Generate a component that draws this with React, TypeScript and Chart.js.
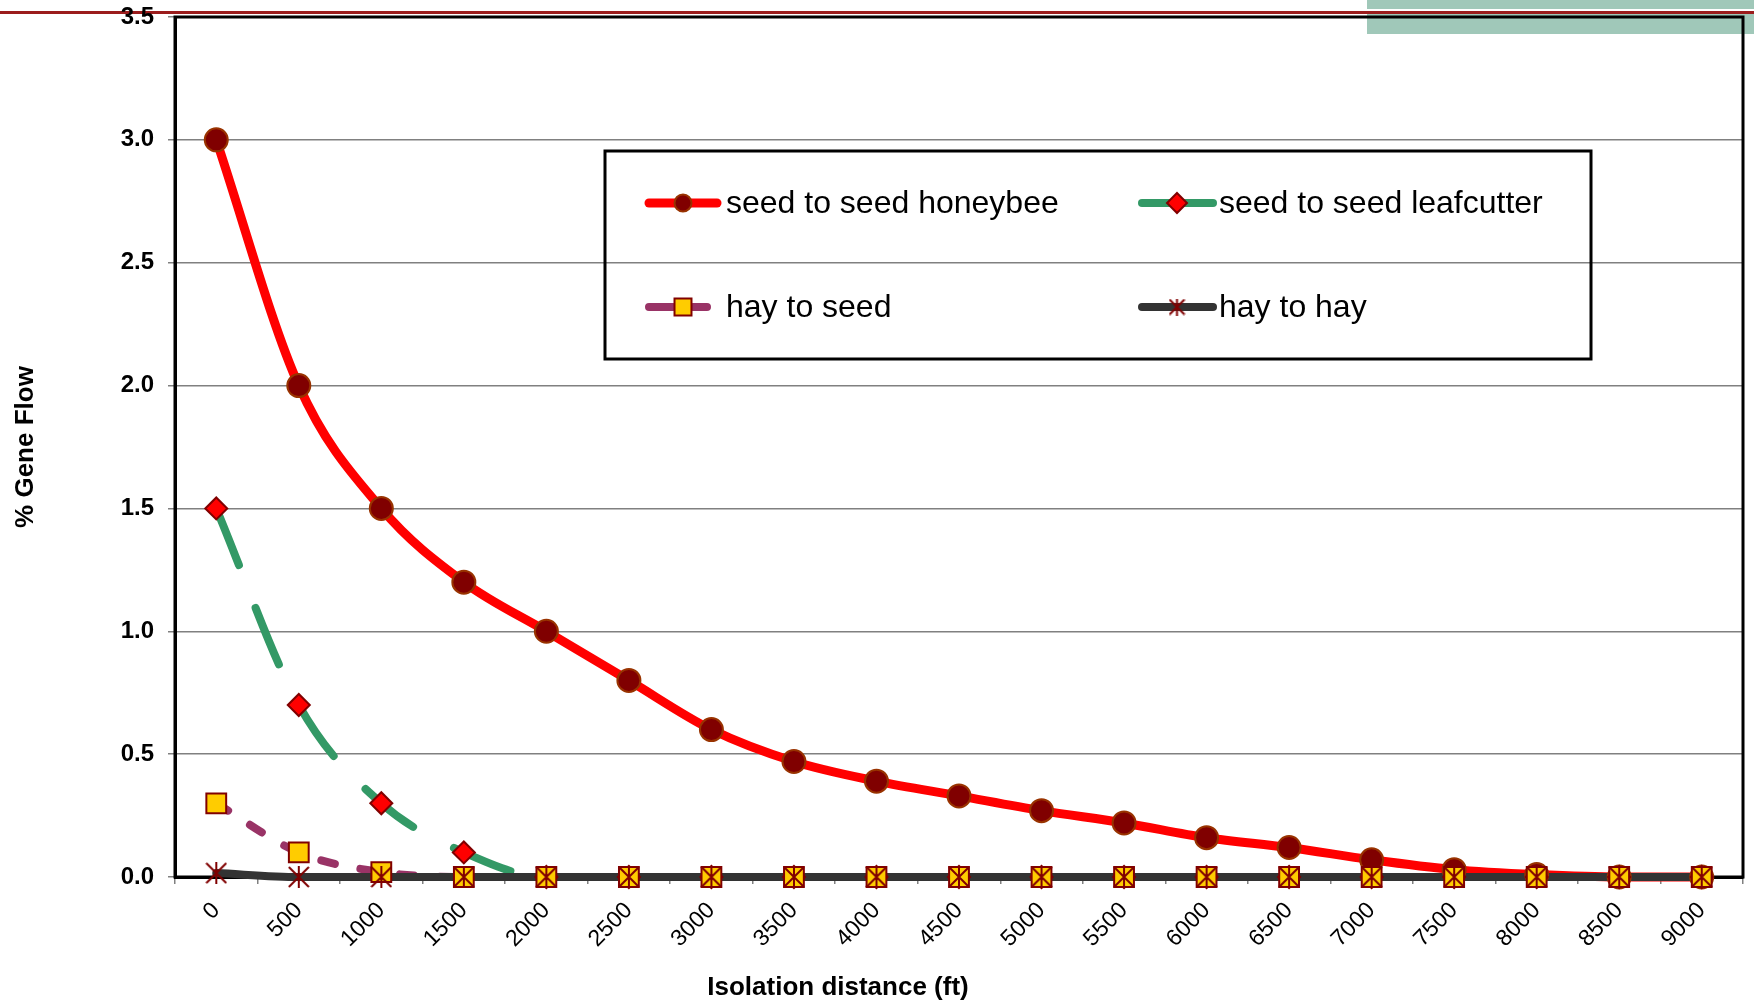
import React, { useEffect, useRef } from 'react';
import { Chart, registerables } from 'chart.js';

Chart.register(...registerables);

const FONT = "'Liberation Sans', Arial, Helvetica, sans-serif";

// ---- data ----
const distances = ['0', '500', '1000', '1500', '2000', '2500', '3000', '3500', '4000', '4500', '5000', '5500', '6000', '6500', '7000', '7500', '8000', '8500', '9000'];
const honeybee = [3.0, 2.0, 1.5, 1.2, 1.0, 0.8, 0.6, 0.47, 0.39, 0.33, 0.27, 0.22, 0.16, 0.12, 0.07, 0.03, 0.01, 0, 0];
const leafcutter = [1.5, 0.7, 0.3, 0.1, 0, 0, 0, 0, 0, 0, 0, 0, 0, 0, 0, 0, 0, 0, 0];
const hayToSeed = [0.3, 0.1, 0.02, 0, 0, 0, 0, 0, 0, 0, 0, 0, 0, 0, 0, 0, 0, 0, 0];
const hayToHay = [0.016, 0, 0, 0, 0, 0, 0, 0, 0, 0, 0, 0, 0, 0, 0, 0, 0, 0, 0];
const seriesNames = ['seed to seed honeybee', 'seed to seed leafcutter', 'hay to seed', 'hay to hay'];
const yTickValues = [0, 0.5, 1.0, 1.5, 2.0, 2.5, 3.0, 3.5];
const xTitle = 'Isolation distance (ft)';
const yTitle = '% Gene Flow';

// ---- styles ----
type MarkerKind = 'circle' | 'rectRot' | 'rect' | 'asterisk';
interface SeriesStyle {
  line: string;
  width: number;
  dash: number[];
  legendSplit: boolean;
  marker: MarkerKind;
  fill: string;
  edge: string;
  radius: number;
  legendRadius: number;
}
const styles: SeriesStyle[] = [
  { line: '#FF0000', width: 9, dash: [], legendSplit: false, marker: 'circle', fill: '#800000', edge: '#993300', radius: 11.5, legendRadius: 8.5 },
  { line: '#339966', width: 8, dash: [61, 46], legendSplit: false, marker: 'rectRot', fill: '#FF0000', edge: '#800000', radius: 11, legendRadius: 10 },
  { line: '#993366', width: 8, dash: [14, 26], legendSplit: true, marker: 'rect', fill: '#FFCC00', edge: '#800000', radius: 14, legendRadius: 12 },
  { line: '#333333', width: 8, dash: [], legendSplit: false, marker: 'asterisk', fill: '#800000', edge: '#800000', radius: 11, legendRadius: 8.5 },
];

function makeAsterisk(size: number, color: string, lw: number): HTMLCanvasElement {
  const c = document.createElement('canvas');
  c.width = size;
  c.height = size;
  const g = c.getContext('2d')!;
  g.strokeStyle = color;
  g.lineWidth = lw;
  const m = lw / 2;
  g.beginPath();
  g.moveTo(m, m);
  g.lineTo(size - m, size - m);
  g.moveTo(size - m, m);
  g.lineTo(m, size - m);
  g.moveTo(size / 2, 0);
  g.lineTo(size / 2, size);
  g.stroke();
  return c;
}

function drawMarker(ctx: CanvasRenderingContext2D, st: SeriesStyle, x: number, y: number, r: number, star: HTMLCanvasElement) {
  ctx.save();
  ctx.fillStyle = st.fill;
  ctx.strokeStyle = st.edge;
  ctx.lineWidth = 2;
  ctx.setLineDash([]);
  ctx.beginPath();
  if (st.marker === 'circle') {
    ctx.arc(x, y, r, 0, Math.PI * 2);
    ctx.fill();
    ctx.stroke();
  } else if (st.marker === 'rectRot') {
    ctx.moveTo(x, y - r);
    ctx.lineTo(x + r, y);
    ctx.lineTo(x, y + r);
    ctx.lineTo(x - r, y);
    ctx.closePath();
    ctx.fill();
    ctx.stroke();
  } else if (st.marker === 'rect') {
    const s = r * Math.SQRT1_2;
    ctx.rect(x - s, y - s, 2 * s, 2 * s);
    ctx.fill();
    ctx.stroke();
  } else {
    ctx.drawImage(star, x - r, y - r, 2 * r, 2 * r);
  }
  ctx.restore();
}

export default function App() {
  const ref = useRef<HTMLCanvasElement>(null);

  useEffect(() => {
    document.body.style.margin = '0';
    const canvas = ref.current;
    if (!canvas) return;

    const star = makeAsterisk(22, '#800000', 2);
    const legendStar = makeAsterisk(17, '#800000', 2);
    const values = [honeybee, leafcutter, hayToSeed, hayToHay];

    const lineSets = values.map((data, i) => ({
      label: seriesNames[i],
      data,
      borderColor: styles[i].line,
      backgroundColor: styles[i].line,
      borderWidth: styles[i].width,
      borderDash: styles[i].dash,
      borderCapStyle: 'round' as const,
      borderJoinStyle: 'round' as const,
      tension: 0.4,
      cubicInterpolationMode: 'monotone' as const,
      pointRadius: 0,
      pointHoverRadius: 0,
      fill: false,
      clip: false as const,
      order: 10 - i,
    }));

    const markerSets = values.map((data, i) => ({
      label: seriesNames[i] + ' markers',
      data,
      showLine: false,
      pointStyle: styles[i].marker === 'asterisk' ? star : styles[i].marker,
      pointRadius: styles[i].radius,
      pointHoverRadius: styles[i].radius,
      pointBackgroundColor: styles[i].fill,
      pointBorderColor: styles[i].edge,
      pointBorderWidth: 2,
      borderWidth: 0,
      clip: false as const,
      order: 3 - i,
    }));

    const decorPlugin = {
      id: 'decor',
      beforeDraw(chart: any) {
        const ctx = chart.ctx as CanvasRenderingContext2D;
        const w = chart.width;
        ctx.save();
        ctx.fillStyle = '#FFFFFF';
        ctx.fillRect(0, 0, w, chart.height);
        ctx.fillStyle = '#A0C8B9';
        ctx.fillRect(1367, 0, w - 1367, 34);
        ctx.fillStyle = '#FFFFFF';
        ctx.fillRect(0, 9, w, 2);
        ctx.fillStyle = '#9B1C1C';
        ctx.fillRect(0, 11, w, 3);
        ctx.restore();
      },
      beforeDatasetsDraw(chart: any) {
        const ctx = chart.ctx as CanvasRenderingContext2D;
        const a = chart.chartArea;
        ctx.save();
        ctx.strokeStyle = '#000000';
        ctx.lineWidth = 3;
        ctx.strokeRect(a.left, a.top, a.right - a.left, a.bottom - a.top);
        ctx.restore();
      },
      afterDraw(chart: any) {
        const ctx = chart.ctx as CanvasRenderingContext2D;
        const a = chart.chartArea;

        // x axis title (placed left of the plot centre, as in the original)
        ctx.save();
        ctx.fillStyle = '#000000';
        ctx.font = `bold 26px ${FONT}`;
        ctx.textAlign = 'center';
        ctx.textBaseline = 'middle';
        ctx.fillText(xTitle, a.left + 663, chart.height - 17);
        ctx.restore();

        // legend box
        const x0 = a.left + 430;
        const y0 = a.top + 134;
        const bw = 986;
        const bh = 208;
        ctx.save();
        ctx.strokeStyle = '#000000';
        ctx.lineWidth = 3;
        ctx.setLineDash([]);
        ctx.strokeRect(x0, y0, bw, bh);

        const cols = [
          { ls: 44, le: 112, mk: 78, tx: 121 },
          { ls: 537, le: 608, mk: 572, tx: 614 },
        ];
        const rows = [52, 156];
        seriesNames.forEach((name, i) => {
          const c = cols[i % 2];
          const ry = y0 + rows[Math.floor(i / 2)];
          const st = styles[i];
          ctx.save();
          ctx.strokeStyle = st.line;
          ctx.lineWidth = st.width;
          ctx.lineCap = 'round';
          ctx.beginPath();
          if (st.legendSplit) {
            ctx.moveTo(x0 + c.ls, ry);
            ctx.lineTo(x0 + c.mk - 10, ry);
            ctx.moveTo(x0 + c.mk + 10, ry);
            ctx.lineTo(x0 + c.mk + 24, ry);
          } else {
            ctx.moveTo(x0 + c.ls, ry);
            ctx.lineTo(x0 + c.le, ry);
          }
          ctx.stroke();
          ctx.restore();
          drawMarker(ctx, st, x0 + c.mk, ry, st.legendRadius, legendStar);
          ctx.fillStyle = '#000000';
          ctx.font = `32px ${FONT}`;
          ctx.textBaseline = 'middle';
          ctx.textAlign = 'left';
          ctx.fillText(name, x0 + c.tx, ry + 1);
        });
        ctx.restore();
      },
    };

    const chart = new Chart(canvas, {
      type: 'line',
      data: {
        labels: distances,
        datasets: [...lineSets, ...markerSets] as any,
      },
      options: {
        responsive: false,
        animation: false,
        devicePixelRatio: 1,
        layout: { autoPadding: false, padding: { top: 17, right: 11, left: 0, bottom: 0 } },
        plugins: {
          legend: { display: false },
          tooltip: { enabled: false },
        },
        events: [],
        scales: {
          x: {
            type: 'category',
            offset: true,
            grid: {
              display: true,
              drawOnChartArea: false,
              drawTicks: true,
              tickLength: 7,
              color: '#808080',
              lineWidth: 1.5,
              offset: true,
            },
            border: { display: true, color: '#000000', width: 3 },
            ticks: {
              color: '#000000',
              font: { family: FONT, size: 23 },
              maxRotation: 45,
              minRotation: 45,
              padding: 13,
              autoSkip: false,
            },
            title: { display: false, text: xTitle },
            afterFit: (s: any) => {
              s.height = 128;
              s.paddingLeft = 0;
              s.paddingRight = 0;
            },
          },
          y: {
            type: 'linear',
            min: 0,
            max: 3.5,
            afterBuildTicks: (s: any) => {
              s.ticks = yTickValues.map((v) => ({ value: v }));
            },
            ticks: {
              color: '#000000',
              font: { family: FONT, size: 24, weight: 'bold' },
              padding: 14,
              callback: (v: any) => Number(v).toFixed(1),
            },
            grid: {
              color: '#808080',
              lineWidth: 1.5,
              tickLength: 7,
            },
            border: { display: true, color: '#000000', width: 3 },
            title: {
              display: true,
              text: yTitle,
              color: '#000000',
              font: { family: FONT, size: 26, weight: 'bold' },
              padding: { top: 10, bottom: 0 },
            },
            afterFit: (s: any) => {
              s.width = 175;
              s.paddingTop = 14;
              s.paddingBottom = 14;
            },
          },
        },
      } as any,
      plugins: [decorPlugin],
    });

    return () => chart.destroy();
  }, []);

  return (
    <div style={{ width: 1754, height: 1005, position: 'relative', background: '#ffffff' }}>
      <canvas ref={ref} width={1754} height={1005} style={{ display: 'block', width: '1754px', height: '1005px' }} />
    </div>
  );
}
